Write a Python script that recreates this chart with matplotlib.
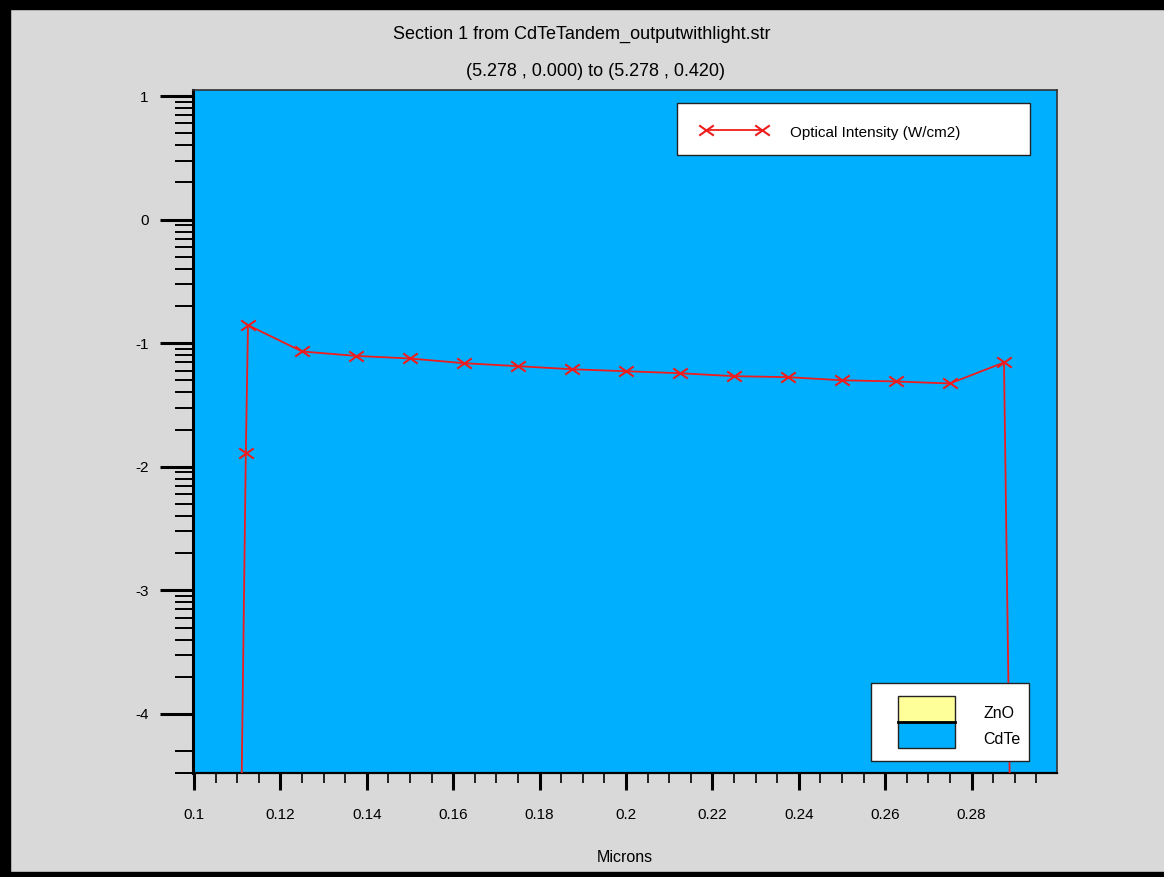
import numpy as np
import matplotlib
matplotlib.use("Agg")
import matplotlib.pyplot as plt
from matplotlib.patches import Rectangle
from matplotlib.lines import Line2D
from matplotlib.path import Path

plt.rcParams['font.family'] = ['Liberation Sans', 'DejaVu Sans']
plt.rcParams['axes.unicode_minus'] = False

# ---------------- data: log10 of optical intensity along the cutline ----------------
microns = [0.1105, 0.1120, 0.1125, 0.1250, 0.1375, 0.1500, 0.1625, 0.1750, 0.1875,
           0.2000, 0.2125, 0.2250, 0.2375, 0.2500, 0.2625, 0.2750, 0.2875, 0.2894]
log_intensity = [-6.0, -1.885, -0.854, -1.067, -1.103, -1.124, -1.162, -1.186, -1.211,
                 -1.227, -1.243, -1.267, -1.275, -1.300, -1.310, -1.326, -1.156, -6.0]

y_major = [1, 0, -1, -2, -3, -4]
x_major = [0.10, 0.12, 0.14, 0.16, 0.18, 0.20, 0.22, 0.24, 0.26, 0.28]

regions = ['ZnO', 'CdTe']
region_colors = ['#ffff99', '#00b0ff']

title = 'Section 1 from CdTeTandem_outputwithlight.str'
subtitle = '(5.278 , 0.000) to (5.278 , 0.420)'
series_label = 'Optical Intensity (W/cm2)'

# ---------------- styling ----------------
W, H = 1164, 877
bg = '#d9d9d9'
plot_bg = '#00b0ff'
line_red = '#ee1c1c'

# flattened X marker, wider than tall
xmark = Path([(-1, -0.7), (1, 0.7), (-1, 0.7), (1, -0.7)],
             [Path.MOVETO, Path.LINETO, Path.MOVETO, Path.LINETO])


def fx(x):
    return x / W


def fy(y):
    return 1 - y / H


fig = plt.figure(figsize=(W / 100, H / 100), dpi=100, facecolor=bg)

# window frame
for (x0, y0, w, h) in [(0, 0, 10, H), (0, 0, W, 9), (0, 872, W, 5)]:
    fig.patches.append(Rectangle((fx(x0), fy(y0 + h)), w / W, h / H,
                                 transform=fig.transFigure, color='black', zorder=0))

ax = fig.add_axes([fx(193), fy(773), (1057 - 193) / W, (773 - 90) / H])
ax.set_facecolor(plot_bg)

ax.plot(microns, log_intensity, color=line_red, lw=1.3, marker=xmark,
        markersize=10.5, mew=1.5, zorder=3, clip_on=True)

ax.set_xlim(0.09977, 0.29977)
ax.set_ylim(-4.478, 1.0486)

# log-decade minor ticks on the y axis
y_minor = [d + np.log10(k) for d in range(-4, 1) for k in range(2, 10)]
y_minor += [-4 - np.log10(2), -4.478]
ax.set_yticks(y_major)
ax.set_yticklabels([str(v) for v in y_major])
ax.set_yticks(y_minor, minor=True)

ax.set_xticks(x_major)
ax.set_xticklabels([f'{v:g}' for v in x_major])
ax.set_xticks(np.arange(0.105, 0.2951, 0.005), minor=True)

ax.tick_params(axis='y', which='major', length=24, width=2.2, pad=8, labelsize=11)
ax.tick_params(axis='y', which='minor', length=13, width=1.4)
ax.tick_params(axis='x', which='major', length=12, width=2.2, pad=13, labelsize=11)
ax.tick_params(axis='x', which='minor', length=7, width=1.2)

ax.spines['left'].set_linewidth(2.2)
ax.spines['bottom'].set_linewidth(1.6)
for s in ('top', 'right'):
    ax.spines[s].set_linewidth(1.2)
    ax.spines[s].set_color('#333333')

ax.set_xlabel('Microns', fontsize=11.5, labelpad=20)

fig.text(0.5, fy(34), title, ha='center', va='center', fontsize=13)
fig.text(fx(596), fy(71), subtitle, ha='center', va='center', fontsize=13)

# series legend box
fig.patches.append(Rectangle((fx(677), fy(155)), (1030 - 677) / W, (155 - 103) / H,
                             transform=fig.transFigure, facecolor='white',
                             edgecolor='#222222', lw=1.0, zorder=5))
fig.lines.append(Line2D([fx(706), fx(762)], [fy(130), fy(130)], transform=fig.transFigure,
                        color=line_red, lw=1.3, marker=xmark, markersize=10.5, mew=1.5,
                        zorder=6))
fig.text(fx(790), fy(133), series_label, ha='left', va='center', fontsize=11, zorder=6)

# region legend box
fig.patches.append(Rectangle((fx(871), fy(761)), (1029 - 871) / W, (761 - 683) / H,
                             transform=fig.transFigure, facecolor='white',
                             edgecolor='#222222', lw=1.0, zorder=5))
sw_top = 696
for i, (name, col) in enumerate(zip(regions, region_colors)):
    y0 = sw_top + i * 26
    fig.patches.append(Rectangle((fx(898), fy(y0 + 26)), (955 - 898) / W, 26 / H,
                                 transform=fig.transFigure, facecolor=col,
                                 edgecolor='#222222', lw=1.0, zorder=6))
    fig.text(fx(983), fy(y0 + 17), name, ha='left', va='center', fontsize=11.5, zorder=6)
fig.lines.append(Line2D([fx(898), fx(955)], [fy(722), fy(722)], transform=fig.transFigure,
                        color='black', lw=2.0, zorder=7))

fig.savefig('out.png', dpi=100, facecolor=bg)
